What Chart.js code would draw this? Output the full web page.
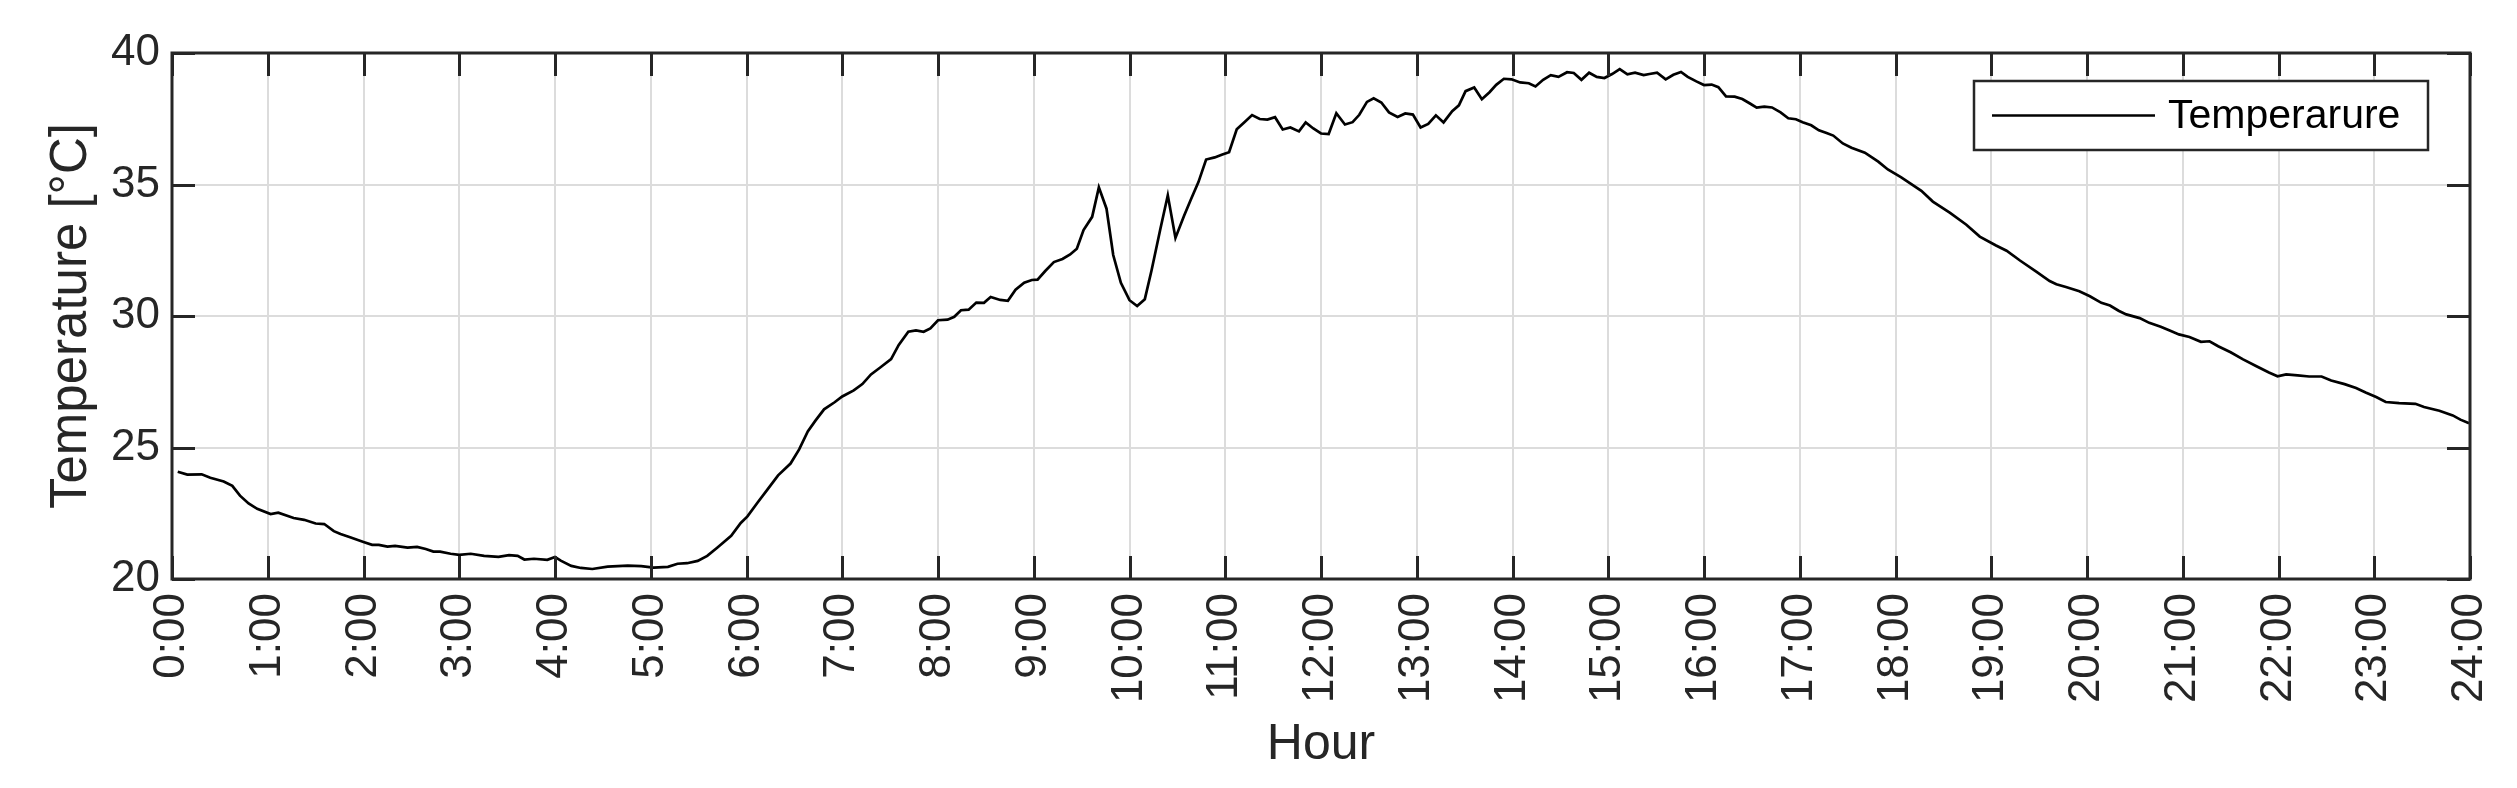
<!DOCTYPE html>
<html>
<head>
<meta charset="utf-8">
<script src="https://cdn.jsdelivr.net/npm/chart.js@4/dist/chart.umd.min.js"></script>
<style>
html,body{margin:0;padding:0;background:#ffffff;}
#wrap{width:2517px;height:788px;}
</style>
</head>
<body>
<div id="wrap"><canvas id="c" width="2517" height="788"></canvas></div>
<script>
// ---- data ----
const hours = [
0.06,0.16,0.31,0.40,0.54,0.63,0.71,0.80,0.89,1.03,1.11,1.27,1.38,1.50,1.59,1.69,1.76,1.86,
2.00,2.09,2.16,2.25,2.33,2.46,2.56,2.65,2.73,2.80,2.91,3.00,3.12,3.26,3.41,3.52,3.61,3.68,3.78,3.92,
4.00,4.06,4.17,4.27,4.39,4.55,4.76,4.90,5.03,5.18,5.28,5.38,5.49,5.59,5.70,5.84,5.94,
6.01,6.12,6.22,6.33,6.46,6.55,6.64,6.72,6.81,6.92,7.00,7.12,7.21,7.30,7.40,7.51,7.59,7.69,7.77,7.85,7.92,
8.00,8.10,8.17,8.24,8.32,8.40,8.48,8.55,8.65,8.73,8.81,8.90,8.98,9.04,9.12,9.21,9.30,9.38,9.45,9.52,9.61,9.68,9.76,9.83,9.91,
10.00,10.08,10.16,10.23,10.32,10.40,10.48,10.57,10.64,10.72,10.80,10.89,10.97,11.04,11.12,11.20,11.28,11.36,11.44,11.52,11.60,11.68,11.77,11.84,11.92,
12.00,12.08,12.16,12.25,12.33,12.40,12.48,12.55,12.63,12.71,12.80,12.88,12.96,13.04,13.12,13.20,13.28,13.37,13.44,13.51,13.60,13.68,13.76,13.83,13.91,13.99,
14.08,14.17,14.24,14.32,14.40,14.48,14.57,14.64,14.72,14.80,14.88,14.96,15.04,15.12,15.20,15.28,15.37,15.43,15.51,15.60,15.68,15.76,15.83,15.92,
16.00,16.08,16.15,16.23,16.32,16.40,16.48,16.55,16.63,16.71,16.80,16.88,16.96,17.03,17.12,17.20,17.28,17.35,17.45,17.54,17.68,17.82,17.92,
18.06,18.27,18.39,18.57,18.74,18.88,19.05,19.16,19.30,19.47,19.61,19.68,19.78,19.92,
20.03,20.15,20.24,20.33,20.41,20.55,20.65,20.77,20.87,20.96,21.07,21.19,21.28,21.37,21.50,21.63,21.77,21.90,21.99,
22.08,22.20,22.32,22.45,22.55,22.69,22.81,22.91,23.02,23.12,23.26,23.43,23.52,23.68,23.82,23.90,23.99
];
const temps = [
24.08,23.97,23.98,23.85,23.71,23.54,23.17,22.87,22.67,22.47,22.52,22.32,22.25,22.11,22.09,21.82,21.71,21.59,
21.41,21.30,21.30,21.23,21.26,21.19,21.22,21.14,21.04,21.04,20.96,20.92,20.96,20.88,20.84,20.91,20.88,20.74,20.77,20.73,
20.84,20.70,20.50,20.42,20.38,20.47,20.51,20.49,20.43,20.46,20.58,20.60,20.69,20.88,21.21,21.64,22.13,
22.38,22.93,23.41,23.94,24.39,24.93,25.61,26.02,26.45,26.72,26.94,27.17,27.41,27.78,28.05,28.36,28.90,29.40,29.45,29.40,29.53,
29.84,29.86,29.97,30.22,30.24,30.51,30.50,30.72,30.61,30.58,31.00,31.27,31.37,31.38,31.71,32.05,32.17,32.34,32.56,33.27,33.77,34.89,34.08,32.32,31.26,
30.60,30.38,30.64,31.73,33.27,34.59,32.97,33.81,34.42,35.09,35.95,36.03,36.14,36.23,37.10,37.37,37.64,37.49,37.47,37.56,37.09,37.17,37.02,37.36,37.13,
36.94,36.92,37.71,37.28,37.37,37.65,38.14,38.28,38.12,37.74,37.57,37.70,37.66,37.17,37.30,37.63,37.36,37.79,38.01,38.55,38.69,38.24,38.51,38.79,39.02,39.00,
38.88,38.85,38.73,38.98,39.16,39.09,39.27,39.24,38.98,39.25,39.09,39.05,39.20,39.39,39.19,39.25,39.16,39.20,39.25,39.00,39.17,39.28,39.09,38.92,
38.78,38.80,38.70,38.35,38.34,38.25,38.08,37.92,37.96,37.93,37.74,37.52,37.48,37.37,37.25,37.06,36.96,36.86,36.56,36.40,36.21,35.87,35.57,
35.27,34.76,34.35,33.92,33.47,33.02,32.68,32.48,32.11,31.69,31.33,31.21,31.10,30.94,
30.75,30.50,30.40,30.20,30.06,29.92,29.74,29.59,29.44,29.30,29.20,29.02,29.04,28.85,28.62,28.35,28.09,27.85,27.71,
27.78,27.74,27.70,27.70,27.55,27.41,27.26,27.09,26.92,26.73,26.69,26.66,26.54,26.40,26.22,26.06,25.92
];
const xTickHours = [0,1,2,3,4,5,6,7,8,9,10,11,12,13,14,15,16,17,18,19,20,21,22,23,24];
const xTickLabels = xTickHours.map(h => h + ':00');
const yTickValues = [20,25,30,35,40];
const seriesName = 'Temperarure';
const xTitle = 'Hour';
const yTitle = 'Temperature [\u00B0C]';

// ---- styling ----
const FONT = '"Liberation Sans", Arial, Helvetica, sans-serif';
const AXIS = '#262626';
const GRID = '#dcdcdc';

const points = hours.map((h, i) => ({x: h, y: temps[i]}));

const framePlugin = {
  id: 'frame',
  afterDatasetsDraw(chart) {
    const {ctx, chartArea: a, scales: {x, y}} = chart;
    ctx.save();
    ctx.strokeStyle = AXIS;
    ctx.lineWidth = 3;
    ctx.lineCap = 'butt';
    const tl = 23;
    ctx.beginPath();
    x.ticks.forEach(t => {
      const px = Math.round(x.getPixelForValue(t.value)) + 0.5;
      ctx.moveTo(px, a.bottom); ctx.lineTo(px, a.bottom - tl);
      ctx.moveTo(px, a.top); ctx.lineTo(px, a.top + tl);
    });
    y.ticks.forEach(t => {
      const py = Math.round(y.getPixelForValue(t.value)) + 0.5;
      ctx.moveTo(a.left, py); ctx.lineTo(a.left + tl, py);
      ctx.moveTo(a.right, py); ctx.lineTo(a.right - tl, py);
    });
    ctx.stroke();
    ctx.strokeRect(a.left, a.top, a.right - a.left, a.bottom - a.top);

    // legend box (top-right inside the axes)
    const ds = chart.data.datasets[0];
    const bw = 454, bh = 69;
    const bx = a.right - 42 - bw, by = a.top + 28;
    ctx.fillStyle = '#ffffff';
    ctx.fillRect(bx, by, bw, bh);
    ctx.lineWidth = 2.5;
    ctx.strokeStyle = AXIS;
    ctx.strokeRect(bx, by, bw, bh);
    const cy = by + bh / 2;
    ctx.beginPath();
    ctx.strokeStyle = ds.borderColor;
    ctx.lineWidth = ds.borderWidth;
    ctx.moveTo(bx + 18, cy); ctx.lineTo(bx + 181, cy);
    ctx.stroke();
    ctx.fillStyle = '#000000';
    ctx.font = '41px ' + FONT;
    ctx.textBaseline = 'middle';
    ctx.textAlign = 'left';
    ctx.fillText(ds.label, bx + 194, cy + 1);
    ctx.restore();
  }
};

new Chart(document.getElementById('c'), {
  type: 'line',
  data: {
    datasets: [{
      label: seriesName,
      data: points,
      borderColor: '#000000',
      borderWidth: 2.7,
      pointRadius: 0,
      tension: 0,
      fill: false
    }]
  },
  options: {
    responsive: false,
    animation: false,
    devicePixelRatio: 1,
    layout: {padding: {top: 53, right: 47, left: 0, bottom: 0}},
    plugins: {legend: {display: false}, tooltip: {enabled: false}},
    scales: {
      x: {
        type: 'linear',
        min: 0, max: 24,
        afterFit(s) { s.height = 209; s.paddingLeft = 0; s.paddingRight = 0; },
        afterBuildTicks(s) { s.ticks = xTickHours.map(v => ({value: v})); },
        ticks: {
          autoSkip: false,
          maxRotation: 90, minRotation: 90,
          padding: 14,
          color: AXIS,
          font: {family: FONT, size: 44},
          callback: (v) => xTickLabels[xTickHours.indexOf(v)]
        },
        grid: {color: GRID, lineWidth: 2, drawTicks: false},
        border: {display: false},
        title: {display: true, text: xTitle, color: AXIS,
                font: {family: FONT, size: 50, lineHeight: 1.2}, padding: {top: 0, bottom: 13}}
      },
      y: {
        type: 'linear',
        min: 20, max: 40,
        afterFit(s) { s.width = 172; s.paddingTop = 0; s.paddingBottom = 0; },
        afterBuildTicks(s) { s.ticks = yTickValues.map(v => ({value: v})); },
        ticks: {
          padding: 12,
          color: AXIS,
          font: {family: FONT, size: 44},
          callback: (v) => String(v)
        },
        grid: {color: GRID, lineWidth: 2, drawTicks: false},
        border: {display: false},
        title: {display: true, text: yTitle, color: AXIS,
                font: {family: FONT, size: 51, lineHeight: 1.2}, padding: {top: 41, bottom: 0}}
      }
    }
  },
  plugins: [framePlugin]
});
</script>
</body>
</html>
